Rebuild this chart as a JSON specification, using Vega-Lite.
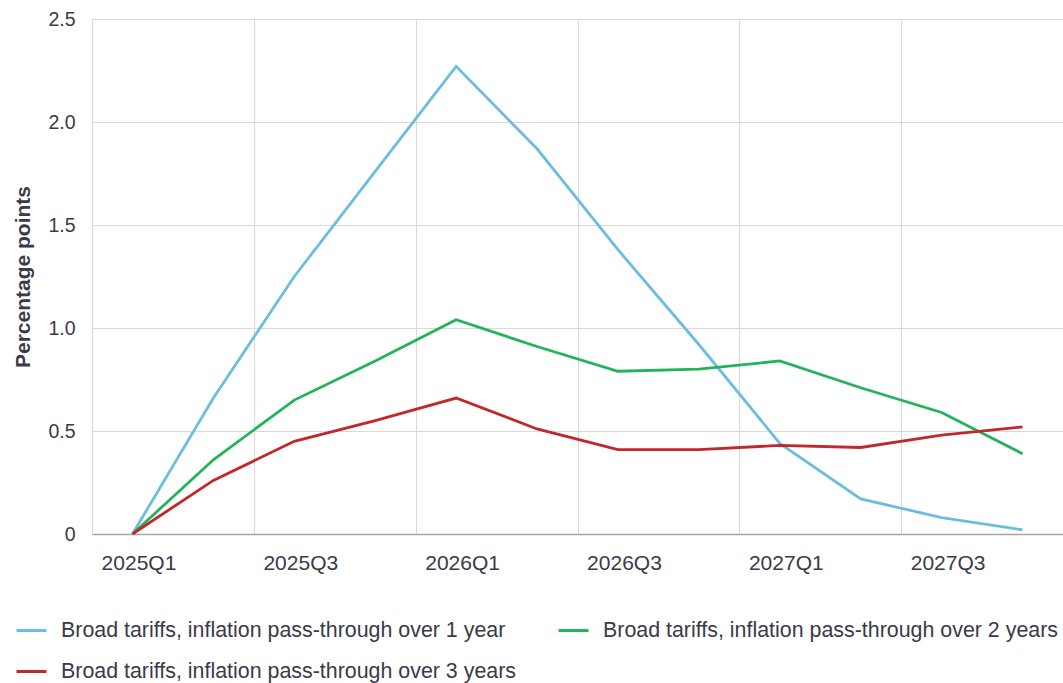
{
  "$schema": "https://vega.github.io/schema/vega-lite/v6.json",
  "width": 971,
  "height": 515,
  "autosize": {"type": "none"},
  "padding": {"left": 92, "top": 19, "right": 0, "bottom": 149},
  "background": "white",
  "config": {
    "font": "Liberation Sans",
    "view": {"stroke": null}
  },
  "data": {
    "values": [
      {"q": "2025Q1", "s": "Broad tariffs, inflation pass-through over 1 year", "v": 0},
      {"q": "2025Q2", "s": "Broad tariffs, inflation pass-through over 1 year", "v": 0.66},
      {"q": "2025Q3", "s": "Broad tariffs, inflation pass-through over 1 year", "v": 1.25},
      {"q": "2025Q4", "s": "Broad tariffs, inflation pass-through over 1 year", "v": 1.76},
      {"q": "2026Q1", "s": "Broad tariffs, inflation pass-through over 1 year", "v": 2.27},
      {"q": "2026Q2", "s": "Broad tariffs, inflation pass-through over 1 year", "v": 1.87},
      {"q": "2026Q3", "s": "Broad tariffs, inflation pass-through over 1 year", "v": 1.38},
      {"q": "2026Q4", "s": "Broad tariffs, inflation pass-through over 1 year", "v": 0.92},
      {"q": "2027Q1", "s": "Broad tariffs, inflation pass-through over 1 year", "v": 0.44},
      {"q": "2027Q2", "s": "Broad tariffs, inflation pass-through over 1 year", "v": 0.17},
      {"q": "2027Q3", "s": "Broad tariffs, inflation pass-through over 1 year", "v": 0.08},
      {"q": "2027Q4", "s": "Broad tariffs, inflation pass-through over 1 year", "v": 0.02},
      {"q": "2025Q1", "s": "Broad tariffs, inflation pass-through over 2 years", "v": 0},
      {"q": "2025Q2", "s": "Broad tariffs, inflation pass-through over 2 years", "v": 0.36},
      {"q": "2025Q3", "s": "Broad tariffs, inflation pass-through over 2 years", "v": 0.65},
      {"q": "2025Q4", "s": "Broad tariffs, inflation pass-through over 2 years", "v": 0.84},
      {"q": "2026Q1", "s": "Broad tariffs, inflation pass-through over 2 years", "v": 1.04},
      {"q": "2026Q2", "s": "Broad tariffs, inflation pass-through over 2 years", "v": 0.91},
      {"q": "2026Q3", "s": "Broad tariffs, inflation pass-through over 2 years", "v": 0.79},
      {"q": "2026Q4", "s": "Broad tariffs, inflation pass-through over 2 years", "v": 0.80},
      {"q": "2027Q1", "s": "Broad tariffs, inflation pass-through over 2 years", "v": 0.84},
      {"q": "2027Q2", "s": "Broad tariffs, inflation pass-through over 2 years", "v": 0.71},
      {"q": "2027Q3", "s": "Broad tariffs, inflation pass-through over 2 years", "v": 0.59},
      {"q": "2027Q4", "s": "Broad tariffs, inflation pass-through over 2 years", "v": 0.39},
      {"q": "2025Q1", "s": "Broad tariffs, inflation pass-through over 3 years", "v": 0},
      {"q": "2025Q2", "s": "Broad tariffs, inflation pass-through over 3 years", "v": 0.26},
      {"q": "2025Q3", "s": "Broad tariffs, inflation pass-through over 3 years", "v": 0.45},
      {"q": "2025Q4", "s": "Broad tariffs, inflation pass-through over 3 years", "v": 0.55},
      {"q": "2026Q1", "s": "Broad tariffs, inflation pass-through over 3 years", "v": 0.66},
      {"q": "2026Q2", "s": "Broad tariffs, inflation pass-through over 3 years", "v": 0.51},
      {"q": "2026Q3", "s": "Broad tariffs, inflation pass-through over 3 years", "v": 0.41},
      {"q": "2026Q4", "s": "Broad tariffs, inflation pass-through over 3 years", "v": 0.41},
      {"q": "2027Q1", "s": "Broad tariffs, inflation pass-through over 3 years", "v": 0.43},
      {"q": "2027Q2", "s": "Broad tariffs, inflation pass-through over 3 years", "v": 0.42},
      {"q": "2027Q3", "s": "Broad tariffs, inflation pass-through over 3 years", "v": 0.48},
      {"q": "2027Q4", "s": "Broad tariffs, inflation pass-through over 3 years", "v": 0.52}
    ]
  },
  "mark": {"type": "line", "strokeWidth": 2.8},
  "encoding": {
    "x": {
      "field": "q",
      "type": "ordinal",
      "sort": null,
      "scale": {"type": "band", "paddingInner": 0, "paddingOuter": 0},
      "axis": {
        "title": null,
        "tickBand": "extent",
        "grid": true,
        "gridColor": "#d9d9d9",
        "gridWidth": 1,
        "gridOpacity": {
          "condition": {
            "test": "isString(datum.value) && datum.value != '2027Q4' && (indexof(datum.value, 'Q2') > 0 || indexof(datum.value, 'Q4') > 0)",
            "value": 1
          },
          "value": 0
        },
        "ticks": false,
        "domain": true,
        "domainColor": "#a6a6a6",
        "domainWidth": 1.5,
        "labelAngle": 0,
        "labelOffset": 6,
        "labelExpr": "isString(datum.value) && (indexof(datum.value, 'Q1') > 0 || indexof(datum.value, 'Q3') > 0) ? datum.value : ''",
        "labelOverlap": false,
        "labelFont": "Liberation Sans",
        "labelFontSize": 21,
        "labelColor": "#3a3a48",
        "labelPadding": 18
      }
    },
    "y": {
      "field": "v",
      "type": "quantitative",
      "scale": {"domain": [0, 2.5], "nice": false},
      "axis": {
        "title": "Percentage points",
        "titleFont": "Liberation Sans",
        "titleFontSize": 21,
        "titleFontWeight": "bold",
        "titleColor": "#3a3a48",
        "titlePadding": 14,
        "values": [0, 0.5, 1, 1.5, 2, 2.5],
        "labelExpr": "datum.value == 0 ? '0' : format(datum.value, '.1f')",
        "grid": true,
        "gridColor": "#d9d9d9",
        "ticks": false,
        "domain": true,
        "domainColor": "#d9d9d9",
        "domainWidth": 1,
        "labelFont": "Liberation Sans",
        "labelFontSize": 19.5,
        "labelColor": "#3a3a48",
        "labelPadding": 17
      }
    },
    "color": {
      "field": "s",
      "type": "nominal",
      "scale": {
        "domain": [
          "Broad tariffs, inflation pass-through over 1 year",
          "Broad tariffs, inflation pass-through over 2 years",
          "Broad tariffs, inflation pass-through over 3 years"
        ],
        "range": ["#6cbde0", "#22b35b", "#c1272d"]
      },
      "legend": {
        "title": null,
        "orient": "none",
        "legendX": -77,
        "legendY": 595,
        "direction": "horizontal",
        "columns": 2,
        "columnPadding": 36,
        "rowPadding": 14,
        "symbolType": "stroke",
        "symbolSize": 900,
        "symbolStrokeWidth": 3,
        "labelFont": "Liberation Sans",
        "labelFontSize": 21.4,
        "labelColor": "#3a3a48",
        "labelOffset": 13,
        "labelLimit": 700
      }
    }
  }
}
